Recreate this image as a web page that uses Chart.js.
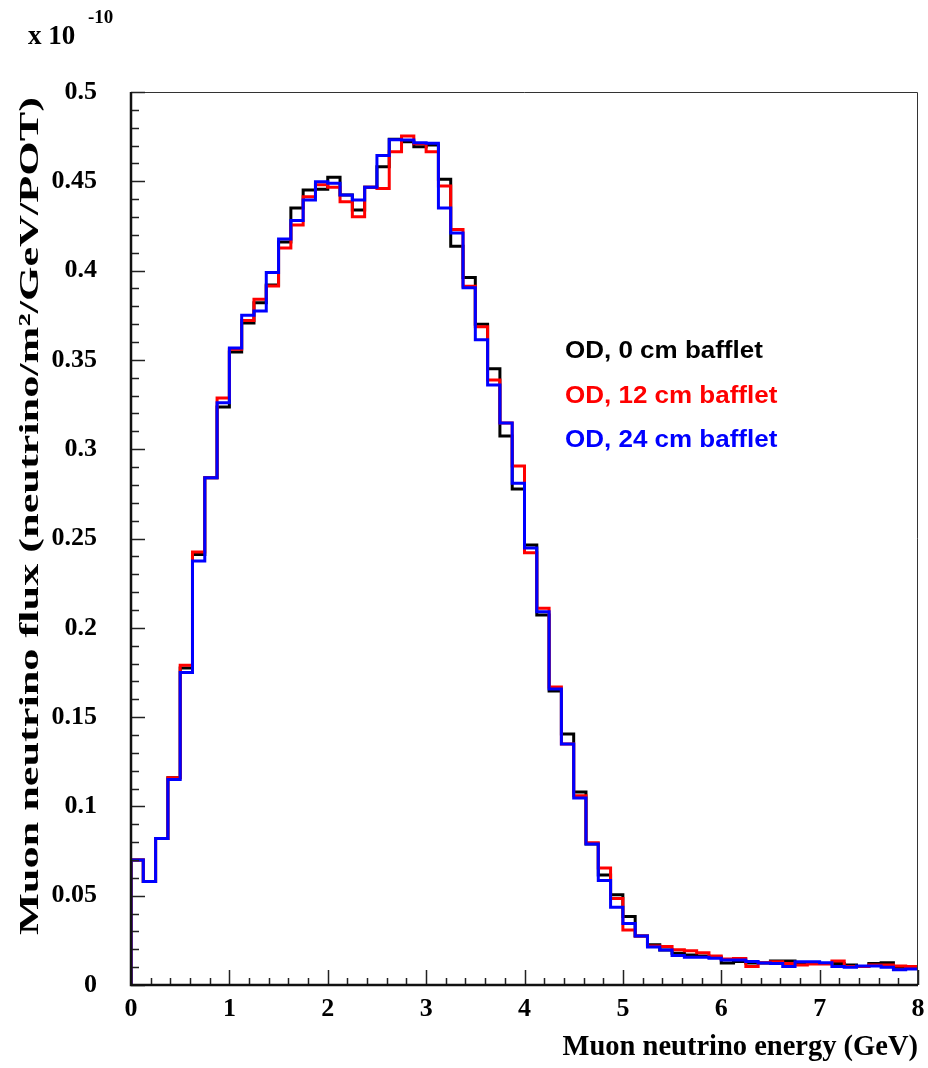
<!DOCTYPE html>
<html>
<head>
<meta charset="utf-8">
<script src="https://cdn.jsdelivr.net/npm/chart.js@4"></script>
<style>
  body { margin: 0; background: #fff; }
  #myChartContainer { position: relative; width: 928px; height: 1068px; }
</style>
</head>
<body>
<div id="myChartContainer"><canvas id="myChart"></canvas></div>
<script>
// bin width in GeV, 64 bins from 0 to 8
const binWidth = 0.125;

// flux values (units of 1e-10)
const flux0cm = [
  0.070, 0.058, 0.082, 0.116, 0.1775, 0.241, 0.284, 0.3236, 0.3544, 0.3707,
  0.382, 0.392, 0.416, 0.435, 0.4451, 0.4455, 0.4522, 0.4423, 0.4339, 0.4466,
  0.4582, 0.4735, 0.4722, 0.4694, 0.4703, 0.4511, 0.4136, 0.3962, 0.370, 0.345,
  0.3074, 0.2777, 0.2464, 0.2072, 0.1646, 0.1405, 0.108, 0.079, 0.0616, 0.0506,
  0.0383, 0.0274, 0.0226, 0.0196, 0.0178, 0.0168, 0.0162, 0.0155, 0.0123, 0.0131,
  0.0123, 0.0123, 0.0134, 0.0134, 0.0121, 0.0121, 0.0121, 0.0121, 0.0112, 0.0103,
  0.0121, 0.0125, 0.0099, 0.0099
];
const flux12cm = [
  0.070, 0.058, 0.082, 0.116, 0.179, 0.2424, 0.284, 0.3287, 0.356, 0.372,
  0.384, 0.3914, 0.4126, 0.4255, 0.4414, 0.448, 0.4466, 0.4386, 0.4302, 0.4466,
  0.446, 0.4666, 0.4754, 0.471, 0.4666, 0.4474, 0.4230, 0.3912, 0.3686, 0.3387,
  0.3147, 0.2906, 0.2420, 0.2110, 0.1669, 0.135, 0.106, 0.0797, 0.0655, 0.0485,
  0.0308, 0.0274, 0.0218, 0.0215, 0.0198, 0.0192, 0.0181, 0.0162, 0.0145, 0.0149,
  0.0103, 0.0125, 0.0130, 0.0121, 0.0112, 0.0117, 0.0117, 0.0134, 0.0103, 0.0103,
  0.0112, 0.0112, 0.0106, 0.0103
];
const flux24cm = [
  0.070, 0.058, 0.082, 0.115, 0.175, 0.2374, 0.284, 0.326, 0.3567, 0.375,
  0.3774, 0.399, 0.4177, 0.428, 0.4395, 0.4498, 0.4489, 0.4423, 0.4395, 0.4466,
  0.4645, 0.4733, 0.4731, 0.4716, 0.4713, 0.435, 0.421, 0.3904, 0.3613, 0.336,
  0.3147, 0.281, 0.2447, 0.209, 0.1657, 0.135, 0.1047, 0.079, 0.0585, 0.0435,
  0.0345, 0.0274, 0.0213, 0.0196, 0.0165, 0.0155, 0.0155, 0.0150, 0.0140, 0.0140,
  0.0131, 0.0123, 0.0120, 0.0103, 0.0130, 0.0130, 0.0125, 0.0103, 0.0100, 0.0107,
  0.0107, 0.0100, 0.0086, 0.0090
];

const seriesLabels = ['OD, 0 cm bafflet', 'OD, 12 cm bafflet', 'OD, 24 cm bafflet'];
const seriesColors = ['#000000', '#ff0000', '#0000ff'];

const xTitle = 'Muon neutrino energy (GeV)';
const yTitle = 'Muon neutrino flux (neutrino/m\u00b2/GeV/POT)';

// histogram outline: start at zero, one point per bin left edge, close at x=8
function toSteps(values) {
  const pts = [{ x: 0, y: 0 }];
  values.forEach((v, i) => pts.push({ x: i * binWidth, y: v }));
  pts.push({ x: values.length * binWidth, y: values[values.length - 1] });
  return pts;
}

const serif = '"Liberation Serif", "Times New Roman", serif';
const sans = '"Liberation Sans", Arial, sans-serif';

// frame, inward ticks, y title, exponent and text legend (ROOT style)
const rootFrame = {
  id: 'rootFrame',
  afterDatasetsDraw(chart) {
    const ctx = chart.ctx;
    const a = chart.chartArea;
    const xs = chart.scales.x;
    const ys = chart.scales.y;
    ctx.save();

    // top / right frame
    ctx.strokeStyle = '#333';
    ctx.lineWidth = 1;
    ctx.beginPath();
    ctx.moveTo(a.left, a.top + 0.5);
    ctx.lineTo(a.right - 0.5, a.top + 0.5);
    ctx.lineTo(a.right - 0.5, a.bottom);
    ctx.stroke();

    // ticks
    ctx.strokeStyle = '#222';
    ctx.lineWidth = 1.5;
    ctx.beginPath();
    for (let k = 0; k <= 50; k++) {
      const py = Math.round(ys.getPixelForValue(k * 0.01)) + 0.5;
      const len = (k % 5 === 0) ? 14 : 8;
      ctx.moveTo(a.left, py);
      ctx.lineTo(a.left + len, py);
    }
    for (let k = 0; k <= 40; k++) {
      const px = Math.round(xs.getPixelForValue(k * 0.2)) + 0.5;
      const len = (k % 5 === 0) ? 15 : 7;
      ctx.moveTo(px, a.bottom);
      ctx.lineTo(px, a.bottom - len);
    }
    ctx.stroke();

    // left and bottom axis lines
    ctx.strokeStyle = '#111';
    ctx.lineWidth = 2.5;
    ctx.beginPath();
    ctx.moveTo(a.left, a.top);
    ctx.lineTo(a.left, a.bottom);
    ctx.lineTo(a.right, a.bottom);
    ctx.stroke();

    ctx.fillStyle = '#000';

    // y title, stretched along its length like the original
    ctx.save();
    ctx.translate(31, 516);
    ctx.rotate(-Math.PI / 2);
    ctx.scale(1.58, 1);
    ctx.font = 'bold 28px ' + serif;
    ctx.textAlign = 'center';
    ctx.textBaseline = 'middle';
    ctx.fillText(yTitle, 0, 0);
    ctx.restore();

    // exponent
    ctx.textBaseline = 'alphabetic';
    ctx.textAlign = 'left';
    ctx.font = 'bold 27px ' + serif;
    ctx.fillText('x 10', 28, 44);
    ctx.font = 'bold 19px ' + serif;
    ctx.fillText('-10', 88, 23);

    // legend text
    ctx.font = 'bold 23px ' + sans;
    ctx.textBaseline = 'middle';
    const legendY = [352, 397, 441];
    seriesLabels.forEach((t, i) => {
      ctx.save();
      ctx.translate(565, legendY[i]);
      ctx.scale(1.13, 1);
      ctx.fillStyle = seriesColors[i];
      ctx.fillText(t, 0, 0);
      ctx.restore();
    });
    ctx.restore();
  }
};

const ctx = document.getElementById('myChart').getContext('2d');
window.myChart = new Chart(ctx, {
  type: 'line',
  data: {
    datasets: [flux0cm, flux12cm, flux24cm].map((vals, i) => ({
      label: seriesLabels[i],
      data: toSteps(vals),
      borderColor: seriesColors[i],
      backgroundColor: seriesColors[i],
      borderWidth: 3,
      stepped: true,
      pointRadius: 0,
      fill: false,
      borderJoinStyle: 'miter',
      order: 3 - i  // blue on top
    }))
  },
  options: {
    responsive: true,
    maintainAspectRatio: false,
    animation: false,
    layout: { padding: { top: 92, right: 10, left: 0, bottom: 0 } },
    plugins: {
      legend: { display: false },
      tooltip: { enabled: false }
    },
    scales: {
      x: {
        type: 'linear',
        min: 0,
        max: 8,
        grid: { display: false, drawTicks: false },
        border: { display: false },
        ticks: {
          stepSize: 1,
          padding: 9,
          maxRotation: 0,
          color: '#000',
          font: { family: serif, size: 26, weight: 'bold' }
        },
        title: {
          display: true,
          text: xTitle,
          align: 'end',
          color: '#000',
          padding: { top: 0, bottom: 3 },
          font: { family: serif, size: 28.5, weight: 'bold' }
        },
        afterFit(scale) {
          scale.height = 83;
          // keep the frame edge fixed, the "8" label may overhang
          scale.paddingLeft = 0;
          scale.paddingRight = 0;
        }
      },
      y: {
        min: 0,
        max: 0.5,
        grid: { display: false, drawTicks: false },
        border: { display: false },
        ticks: {
          stepSize: 0.05,
          padding: 34,
          color: '#000',
          font: { family: serif, size: 26, weight: 'bold' },
          callback: (v) => String(Math.round(v * 100) / 100)
        },
        title: { display: false },
        afterFit(scale) { scale.width = 131; }
      }
    }
  },
  plugins: [rootFrame]
});
</script>
</body>
</html>
